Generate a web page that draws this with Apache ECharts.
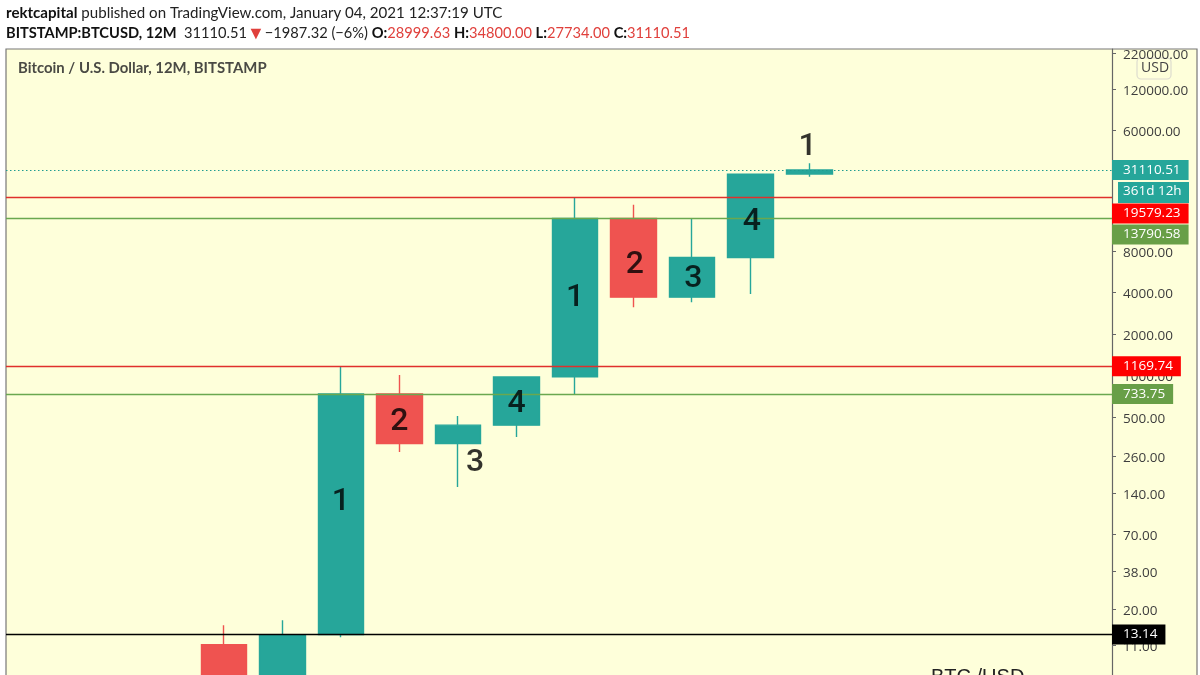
<!DOCTYPE html>
<html>
<head>
<meta charset="utf-8">
<style>html,body{margin:0;padding:0;background:#fff}#chart{width:1200px;height:675px}</style>
<script src="https://cdn.jsdelivr.net/npm/echarts@6/dist/echarts.min.js"></script>
</head>
<body>
<div id="chart"></div>
<script>
// yearly candles (2011 and 2012 run past the bottom edge)
const years = [2011, 2012, 2013, 2014, 2015, 2016, 2017, 2018, 2019, 2020, 2021];
const opens = [11.1, 4.7, 13.14, 733.75, 320, 436, 977, 13790.58, 3707, 7195, 28999.63];
const closes = [4.7, 13.14, 733.75, 320, 436, 977, 13790.58, 3707, 7195, 28999.63, 31110.51];
const lows = [2.2, 4.0, 12.6, 278, 155, 357, 733.75, 3133, 3400, 3900, 27734];
const highs = [15.4, 16.7, 1169.74, 1007, 509, 985, 19579.23, 17340, 13790.58, 29300, 34800];

const tickValues = [220000, 120000, 60000, 8000, 4000, 2000, 1000, 500, 260, 140, 70, 38, 20, 11];

const levelValues = [19579.23, 13790.58, 1169.74, 733.75, 13.14];
const lastPrice = 31110.51;

const noteText = ["1", "2", "3", "4", "1", "2", "3", "4", "1"];
const noteX = [2013, 2014, 2015.29, 2016, 2017, 2018.02, 2019.02, 2020.02, 2020.97];
const noteY = [120, 458, 232, 620, 3640, 6380, 4980, 13050, 45400];

const UP = "#26a69a";
const DOWN = "#ef5350";
const PANEL = "#feffda";
const AXIS_FONT = "'Open Sans', sans-serif";
const HEAD_FONT = "Lato, sans-serif";

const LEVEL_STYLES = [
  { line: "#e0302c", fill: "#ff0000", offset: [0, 16] },
  { line: "#6aa84f", fill: "#689f47", offset: [0, 16] },
  { line: "#e0302c", fill: "#ff0000", offset: [0, 0] },
  { line: "#6aa84f", fill: "#689f47", offset: [0, 0] },
  { line: "#000000", fill: "#000000", offset: [0, 0] },
];

function priceLabel(fill, offset) {
  return {
    position: "end",
    distance: 0,
    offset,
    color: "#fff",
    fontFamily: AXIS_FONT,
    fontSize: 13.5,
    backgroundColor: fill,
    padding: [3, 8, 3, 11],
    formatter: (p) => p.value.toFixed(2),
  };
}

const levelLines = levelValues.map((value, i) => ({
  yAxis: value,
  lineStyle: { color: LEVEL_STYLES[i].line, width: 1.3, type: "solid", opacity: 1 },
  label: priceLabel(LEVEL_STYLES[i].fill, LEVEL_STYLES[i].offset),
}));

levelLines.push({
  yAxis: lastPrice,
  lineStyle: { color: "#1f9c90", width: 1.2, type: [1.5, 2.5], opacity: 1 },
  label: priceLabel(UP, [0, 0]),
});

function headRich(size) {
  return {
    b: { fontFamily: HEAD_FONT, fontSize: size, fontWeight: "bold", color: "#111" },
    r: { fontFamily: HEAD_FONT, fontSize: size, color: "#e0403c" },
    t: { fontFamily: HEAD_FONT, fontSize: 18, color: "#e0403c" },
  };
}

const option = {
  animation: false,
  backgroundColor: "#fff",
  title: [
    {
      left: 6,
      top: 6,
      padding: 0,
      text: "{b|rektcapital} published on TradingView.com, January 04, 2021 12:37:19 UTC",
      textStyle: { fontFamily: HEAD_FONT, fontSize: 15.1, fontWeight: "normal", color: "#222", rich: headRich(15.1) },
    },
    {
      left: 6,
      top: 24,
      padding: 0,
      text: "{b|BITSTAMP:BTCUSD, 12M}  31110.51{t|▼}−1987.32 (−6%) {b|O:}{r|28999.63} {b|H:}{r|34800.00} {b|L:}{r|27734.00} {b|C:}{r|31110.51}",
      textStyle: { fontFamily: HEAD_FONT, fontSize: 14.65, fontWeight: "normal", color: "#222", rich: headRich(14.65) },
    },
    {
      left: 18,
      top: 61,
      padding: 0,
      text: "Bitcoin / U.S. Dollar, 12M, BITSTAMP",
      textStyle: { fontFamily: HEAD_FONT, fontSize: 14.9, fontWeight: "bold", color: "#4a4a44" },
    },
  ],
  grid: { left: 6, right: 88, top: 49, bottom: 0 },
  xAxis: {
    type: "value",
    min: 2007.28,
    max: 2026.17,
    show: false,
  },
  yAxis: {
    type: "log",
    position: "right",
    min: 6.69,
    max: 234800,
    axisLine: { show: true, lineStyle: { color: "#666", width: 1.2 } },
    axisTick: { show: true, length: 4, lineStyle: { color: "#666" }, customValues: tickValues },
    splitLine: { show: false },
    minorTick: { show: false },
    axisLabel: {
      customValues: tickValues,
      margin: 11,
      formatter: (v) => "{v|" + Math.round(v).toFixed(2) + "}",
      rich: {
        // top padding nudges the text down from the tick, as in the reference
        v: { color: "#3d3d3d", fontFamily: AXIS_FONT, fontSize: 13.5, padding: [4, 0, 0, 0] },
      },
      hideOverlap: false,
      showMinLabel: true,
      showMaxLabel: true,
    },
  },
  series: [
    // price levels sit behind the candles, so they hang off an empty series
    {
      type: "line",
      silent: true,
      data: [],
      markLine: { silent: true, symbol: "none", animation: false, data: levelLines },
      z: 1,
    },
    {
      type: "candlestick",
      barWidth: 46,
      silent: true,
      encode: { x: 0, y: [1, 2, 3, 4] },
      data: years.map((year, i) => [year, opens[i], closes[i], lows[i], highs[i]]),
      itemStyle: { color: UP, color0: DOWN, borderColor: UP, borderColor0: DOWN, borderWidth: 1.4 },
      z: 3,
    },
    {
      type: "scatter",
      silent: true,
      symbolSize: 1,
      itemStyle: { color: "transparent" },
      data: noteX.map((x, i) => [x, noteY[i]]),
      label: {
        show: true,
        position: "inside",
        color: "#000",
        fontFamily: "Roboto, sans-serif",
        fontWeight: 500,
        fontSize: 32,
        formatter: (p) => noteText[p.dataIndex],
      },
      z: 6,
    },
  ],
  graphic: [
    // chart frame, axis panel included
    {
      type: "rect",
      z: -10,
      shape: { x: 6, y: 49, width: 1191, height: 640 },
      style: { fill: PANEL, stroke: "#777", lineWidth: 1.2 },
    },
    // bar countdown under the last price
    {
      type: "group",
      z: 100,
      children: [
        { type: "rect", shape: { x: 1118, y: 182, width: 71, height: 21 }, style: { fill: UP } },
        {
          type: "text",
          x: 1123,
          y: 184,
          style: { text: "361d 12h", fill: "#fff", font: "13.5px " + AXIS_FONT },
        },
      ],
    },
    // currency button
    {
      type: "group",
      z: 100,
      children: [
        {
          type: "rect",
          shape: { x: 1137, y: 58, width: 34, height: 21, r: 4 },
          style: { fill: PANEL, stroke: "#dddccf", lineWidth: 1.2 },
        },
        {
          type: "text",
          x: 1141,
          y: 61,
          style: { text: "USD", fill: "#444", font: "14px " + AXIS_FONT },
        },
      ],
    },
    {
      type: "text",
      x: 931,
      y: 667,
      z: 100,
      style: { text: "BTC /USD", fill: "#222", font: "20px 'Liberation Sans', Arial, sans-serif" },
    },
  ],
};

const chart = echarts.init(document.getElementById("chart"), null, { renderer: "canvas" });
chart.setOption(option);
</script>
</body>
</html>
